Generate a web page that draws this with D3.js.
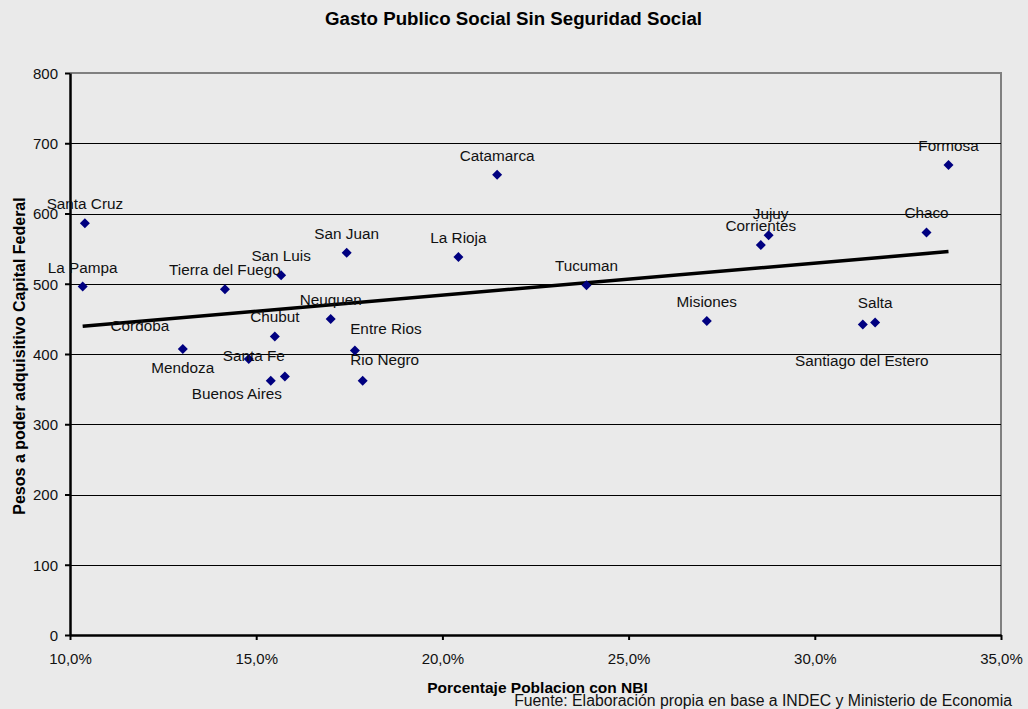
<!DOCTYPE html>
<html>
<head>
<meta charset="utf-8">
<script src="https://cdn.jsdelivr.net/npm/d3@7"></script>
<style>
  html, body { margin: 0; padding: 0; background: #eaeaea; }
  svg { display: block; font-family: "Liberation Sans", Arial, sans-serif; }
</style>
</head>
<body>
<svg id="chart" width="1028" height="709"></svg>
<script>
// Provincias: porcentaje de poblacion con NBI y gasto social por habitante
const provinces = [
  "Santa Cruz", "La Pampa", "Cordoba", "Tierra del Fuego", "San Luis", "Chubut",
  "Santa Fe", "Mendoza", "Buenos Aires", "San Juan", "Neuquen", "Entre Rios",
  "Rio Negro", "Catamarca", "La Rioja", "Tucuman", "Misiones", "Corrientes",
  "Jujuy", "Santiago del Estero", "Salta", "Chaco", "Formosa"
];
const nbi = [
  0.1040, 0.1034, 0.1303, 0.1416, 0.1567, 0.1550,
  0.1480, 0.1539, 0.1577, 0.1743, 0.1700, 0.1765,
  0.1786, 0.2147, 0.2043, 0.2387, 0.2710, 0.2855,
  0.2876, 0.3129, 0.3162, 0.3300, 0.3359
];
const gasto = [
  586, 496, 407, 492, 512, 425,
  393, 362, 368, 544, 450, 405,
  362, 655, 538, 498, 447, 555,
  569, 442, 445, 573, 669
];
const xTicks = [0.10, 0.15, 0.20, 0.25, 0.30, 0.35];
const yTicks = [0, 100, 200, 300, 400, 500, 600, 700, 800];

// Label placement (pixels, relative to the marker) for labels moved off the default spot
const labelShift = {
  "Cordoba": [-43, -18],
  "Mendoza": [-88, -8],
  "Buenos Aires": [-48, 23],
  "Santa Fe": [5, 2],
  "Entre Rios": [31, -16],
  "Rio Negro": [22, -16],
  "Santiago del Estero": [-1, 42],
  "Jujuy": [2, -16]
};
const defaultShift = [0, -14];

const svg = d3.select("#chart");
const plotL = 70, plotR = 1001, plotT = 73, plotB = 635;

const x = d3.scaleLinear().domain([0.10, 0.35]).range([plotL, plotR]);
const y = d3.scaleLinear().domain([0, 800]).range([plotB, plotT]);

const pct = v => (v * 100).toFixed(1).replace(".", ",") + "%";

// Plot frame (top and right edges in grey)
svg.append("path")
  .attr("d", `M${plotL},${y(800)}H${plotR}V${plotB}`)
  .attr("fill", "none").attr("stroke", "#808080").attr("stroke-width", 2);

// Horizontal gridlines
svg.append("g")
  .attr("transform", `translate(${plotL},0)`)
  .call(d3.axisLeft(y).tickValues(yTicks.filter(t => t > 0 && t < 800)).tickSize(-(plotR - plotL)).tickFormat(""))
  .call(g => g.select(".domain").remove())
  .call(g => g.selectAll("line").attr("stroke", "#000").attr("stroke-width", 1).attr("shape-rendering", "crispEdges"));

// Y axis
svg.append("g")
  .attr("transform", `translate(${plotL},0)`)
  .call(d3.axisLeft(y).tickValues(yTicks).tickSize(5).tickSizeOuter(0).tickPadding(7))
  .call(g => g.select(".domain").attr("stroke", "#000").attr("stroke-width", 2.5))
  .call(g => g.selectAll("line").attr("stroke", "#000").attr("stroke-width", 2))
  .call(g => g.selectAll("text").attr("fill", "#111").attr("font-size", 15)
    .attr("font-family", "Liberation Sans, Arial, sans-serif").attr("dy", "0.36em"));

// X axis
svg.append("g")
  .attr("transform", `translate(0,${plotB})`)
  .call(d3.axisBottom(x).tickValues(xTicks).tickSize(5).tickSizeOuter(0).tickPadding(10).tickFormat(pct))
  .call(g => g.select(".domain").attr("stroke", "#000").attr("stroke-width", 2.5))
  .call(g => g.selectAll("line").attr("stroke", "#000").attr("stroke-width", 2))
  .call(g => g.selectAll("text").attr("fill", "#111").attr("font-size", 15)
    .attr("font-family", "Liberation Sans, Arial, sans-serif").attr("dy", "0.95em"));

// Linear trend line (least squares over the provinces)
const n = nbi.length;
const mx = d3.mean(nbi), my = d3.mean(gasto);
let sxy = 0, sxx = 0;
for (let i = 0; i < n; i++) {
  sxy += (nbi[i] - mx) * (gasto[i] - my);
  sxx += (nbi[i] - mx) * (nbi[i] - mx);
}
const slope = sxy / sxx, intercept = my - slope * mx;
const [x0, x1] = d3.extent(nbi);
svg.append("line")
  .attr("x1", x(x0)).attr("y1", y(intercept + slope * x0))
  .attr("x2", x(x1)).attr("y2", y(intercept + slope * x1))
  .attr("stroke", "#000").attr("stroke-width", 3.5);

// Markers
const pts = provinces.map((name, i) => ({ name, v: nbi[i], g: gasto[i] }));
const r = 5;
svg.append("g").selectAll("path")
  .data(pts).join("path")
  .attr("d", d => `M${x(d.v)},${y(d.g) - r}L${x(d.v) + r},${y(d.g)}L${x(d.v)},${y(d.g) + r}L${x(d.v) - r},${y(d.g)}Z`)
  .attr("fill", "#000080");

// Province labels
svg.append("g").selectAll("text")
  .data(pts).join("text")
  .attr("x", d => x(d.v) + (labelShift[d.name] || defaultShift)[0])
  .attr("y", d => y(d.g) + (labelShift[d.name] || defaultShift)[1])
  .attr("text-anchor", "middle")
  .attr("font-size", 15.3)
  .attr("fill", "#111")
  .text(d => d.name);

// Titles
svg.append("text")
  .attr("x", 513.5).attr("y", 25)
  .attr("text-anchor", "middle").attr("font-size", 18.7).attr("font-weight", "bold")
  .attr("fill", "#000")
  .text("Gasto Publico Social Sin Seguridad Social");

svg.append("text")
  .attr("transform", "translate(25,356) rotate(-90)")
  .attr("text-anchor", "middle").attr("font-size", 16).attr("font-weight", "bold")
  .attr("fill", "#000")
  .text("Pesos a poder adquisitivo Capital Federal");

svg.append("text")
  .attr("x", 537.5).attr("y", 693)
  .attr("text-anchor", "middle").attr("font-size", 15.5).attr("font-weight", "bold")
  .attr("fill", "#000")
  .text("Porcentaje Poblacion con NBI");

svg.append("text")
  .attr("x", 1012).attr("y", 706)
  .attr("text-anchor", "end").attr("font-size", 15.8)
  .attr("fill", "#111")
  .text("Fuente: Elaboración propia en base a INDEC y Ministerio de Economia");
</script>
</body>
</html>
